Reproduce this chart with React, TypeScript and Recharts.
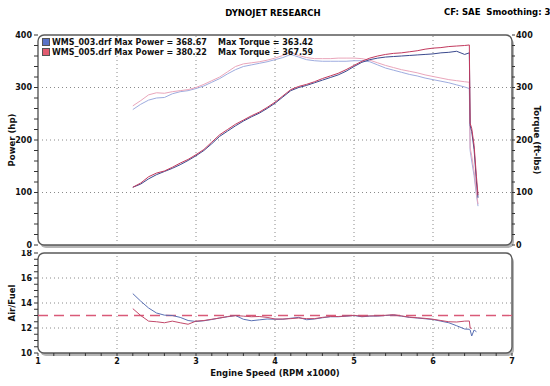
import React from "react";
import {
  LineChart,
  Line,
  XAxis,
  YAxis,
  ReferenceLine,
  ReferenceArea,
  Legend,
} from "recharts";

// engine speed, RPM x1000
const rpm = [
  2.2, 2.3, 2.4, 2.5, 2.6, 2.7, 2.8, 2.9,
  3.0, 3.1, 3.2, 3.3, 3.4, 3.5, 3.6, 3.7, 3.8, 3.9,
  4.0, 4.1, 4.2, 4.3, 4.4, 4.5, 4.6, 4.7, 4.8, 4.9,
  5.0, 5.1, 5.2, 5.3, 5.4, 5.5, 5.6, 5.7, 5.8, 5.9,
  6.0, 6.1, 6.2, 6.3, 6.4,
  6.46, 6.47, 6.49, 6.52, 6.55, 6.57,
];

// WMS_003 (blue)
const power003 = [
  110, 116, 126, 134, 140, 146, 153, 161,
  170, 180, 193, 207, 217, 227, 236, 244, 251, 260,
  270, 282, 294, 300, 304, 309, 314, 319, 324, 331,
  340, 348, 353, 356, 358, 359, 360, 361, 362, 363,
  364, 366, 367, 369, 363,
  366, 228, 216, 182, 120, 90,
];
const torque003 = [
  258, 268, 276, 280, 281, 288, 292, 294,
  298, 303, 310, 317, 326, 334, 340, 343, 346, 349,
  353, 357, 363, 358, 353, 351, 350, 350, 350, 350,
  351, 351, 349, 343, 337, 333, 329, 325, 322, 318,
  315, 312, 309, 305, 301,
  298, 180, 160, 132, 95, 74,
];
const afr003 = [
  14.75, 14.15, 13.6, 13.2, 13.03, 13.0, 12.85, 12.6,
  12.52, 12.58, 12.68, 12.8, 12.9, 13.0, 12.7, 12.58, 12.65, 12.72,
  12.7, 12.7, 12.78, 12.85, 12.66, 12.72, 12.82, 12.9, 12.9, 12.95,
  13.0, 12.9, 12.95, 12.96, 13.0, 13.04, 12.95, 12.85, 12.8, 12.74,
  12.68, 12.55, 12.42, 12.18, 11.92,
  11.9, 11.85, 11.36, 11.84, 11.7, null,
];

// WMS_005 (red)
const power005 = [
  110, 118, 130, 137, 141, 148, 156, 163,
  172, 182, 196, 210, 220, 230, 238, 246, 253, 262,
  272, 284, 296, 302, 306, 311, 317, 322, 327, 334,
  342, 350, 356, 360, 363, 365, 366, 368, 370, 373,
  375, 376, 378, 379, 380,
  381, 232, 222, 190, 130, 95,
];
const torque005 = [
  265, 275, 286, 290, 289, 292, 294, 296,
  300, 306, 313, 320, 330, 340, 345, 347, 349, 352,
  356, 361, 367, 361, 357, 355, 355, 355, 356, 356,
  356, 355, 352, 347, 342, 338, 334, 331, 328, 324,
  321, 318, 315, 313, 311,
  310, 185, 170, 140, 100, 78,
];
const afr005 = [
  13.55, 13.0, 12.55, 12.5, 12.42, 12.55, 12.42, 12.3,
  12.55, 12.6, 12.7, 12.8, 12.92, 13.0, 12.95, 12.9, 12.92, 12.85,
  12.72, 12.72, 12.75, 12.8, 12.75, 12.75, 12.85, 12.92, 12.92, 12.96,
  13.02, 12.93, 12.97, 12.98, 13.02, 13.06, 12.97, 12.87, 12.82, 12.77,
  12.7, 12.6, 12.5, 12.48, 12.55,
  12.56, 12.0, 11.97, null, null, null,
];

const runFiles = ["WMS_003.drf", "WMS_005.drf"];
const maxPower = ["368.67", "380.22"];
const maxTorque = ["363.42", "367.59"];
const runColors = ["#5a72c6", "#e25c70"];

const targetAfr = 13.0;
const rpmGrid = [2, 3, 4, 5, 6];
const powerGrid = [100, 200, 300];
const afrGrid = [12, 14, 16];

const powerTicks = Array.from({ length: 21 }, (_, i) => i * 20);
const afrTicks = Array.from({ length: 17 }, (_, i) => 10 + i * 0.5);
const rpmTicks = Array.from({ length: 31 }, (_, i) => Math.round((1 + i * 0.2) * 10) / 10);

const data = rpm.map((r, i) => ({
  rpm: r,
  p003: power003[i],
  t003: torque003[i],
  a003: afr003[i],
  p005: power005[i],
  t005: torque005[i],
  a005: afr005[i],
}));

const FONT = '"DejaVu Sans", Verdana, sans-serif';
const tickStyle = { fontSize: 8, fontWeight: "bold", fill: "#111", fontFamily: FONT };
const titleStyle = { fontSize: 8.5, fontWeight: "bold", fill: "#111", fontFamily: FONT };
const gridStroke = "#8a8a8a";

const only = (step: number) => (v: number) =>
  Math.abs(v / step - Math.round(v / step)) < 1e-6 ? String(Math.round(v)) : "";

const Frame = (props: any) => {
  const { x, y, width, height } = props;
  return (
    <g>
      <rect x={x + 2} y={y + 3} width={width} height={height} rx={6} fill="#b5b5b5" />
      <rect x={x} y={y} width={width} height={height} rx={6} fill="#fff" stroke="#5a5a5a" strokeWidth={1.4} />
    </g>
  );
};

const RunLegend = () => (
  <div style={{ fontFamily: FONT, fontSize: 8, fontWeight: "bold", color: "#111", position: "relative", width: 320 }}>
    {runFiles.map((f, i) => (
      <div key={f} style={{ height: 10, lineHeight: "10px", position: "relative", whiteSpace: "nowrap" }}>
        <span
          style={{
            display: "inline-block",
            width: 6,
            height: 6,
            background: runColors[i],
            border: "1px solid #555",
            marginRight: 2,
            verticalAlign: "-1px",
          }}
        />
        {f} Max Power = {maxPower[i]}
        <span style={{ position: "absolute", left: 176 }}>Max Torque = {maxTorque[i]}</span>
      </div>
    ))}
  </div>
);

export default function App() {
  return (
    <div
      style={{
        position: "absolute",
        left: 0,
        top: 0,
        width: 550,
        height: 386,
        background: "#fff",
        fontFamily: FONT,
        overflow: "hidden",
      }}
    >
      <div style={{ position: "absolute", left: 0, width: 546, top: 8, textAlign: "center", fontSize: 8.5, fontWeight: "bold" }}>
        DYNOJET RESEARCH
      </div>
      <div style={{ position: "absolute", left: 444, top: 7, fontSize: 8.5, fontWeight: "bold", whiteSpace: "pre" }}>
        CF: SAE  Smoothing: 3
      </div>

      <div style={{ position: "absolute", left: 0, top: 0 }}>
        <LineChart width={550} height={250} data={data} margin={{ top: 35, right: 0, bottom: 5, left: 0 }}>
          <XAxis dataKey="rpm" type="number" domain={[1, 7]} hide />
          <YAxis
            yAxisId="hp"
            domain={[0, 400]}
            ticks={powerTicks}
            interval={0}
            tickFormatter={only(100)}
            width={38}
            axisLine={false}
            tickLine={{ stroke: "#333" }}
            tickSize={4}
            tick={tickStyle}
            label={{ value: "Power (hp)", angle: -90, position: "center", dx: -7, style: titleStyle }}
          />
          <YAxis
            yAxisId="tq"
            orientation="right"
            domain={[0, 400]}
            ticks={powerTicks}
            interval={0}
            tickFormatter={only(100)}
            width={38}
            axisLine={false}
            tickLine={{ stroke: "#333" }}
            tickSize={3}
            tickMargin={1}
            tick={tickStyle}
            label={{ value: "Torque (ft-lbs)", angle: 90, position: "center", dx: 6, style: titleStyle }}
          />
          <ReferenceArea yAxisId="hp" x1={1} x2={7} y1={0} y2={400} shape={<Frame />} />
          {powerGrid.map((v) => (
            <ReferenceLine key={"h" + v} yAxisId="hp" y={v} stroke={gridStroke} strokeDasharray="1 3" />
          ))}
          {rpmGrid.map((v) => (
            <ReferenceLine key={"v" + v} yAxisId="hp" x={v} stroke={gridStroke} strokeDasharray="1 3" />
          ))}
          <Line yAxisId="tq" dataKey="t003" stroke="#9eacdf" strokeWidth={1} dot={false} isAnimationActive={false} />
          <Line yAxisId="tq" dataKey="t005" stroke="#eaa6bb" strokeWidth={1} dot={false} isAnimationActive={false} />
          <Line yAxisId="hp" dataKey="p003" stroke="#3b4a8e" strokeWidth={1} dot={false} isAnimationActive={false} />
          <Line yAxisId="hp" dataKey="p005" stroke="#c23a5e" strokeWidth={1} dot={false} isAnimationActive={false} />
          <Legend
            layout="horizontal"
            verticalAlign="middle"
            align="center"
            content={<RunLegend />}
            wrapperStyle={{ top: 38, left: 42, width: 320, height: 20 }}
          />
        </LineChart>
      </div>

      <div style={{ position: "absolute", left: 0, top: 250 }}>
        <LineChart width={550} height={136} data={data} margin={{ top: 3, right: 0, bottom: 0, left: 0 }}>
          <XAxis
            dataKey="rpm"
            type="number"
            domain={[1, 7]}
            ticks={rpmTicks}
            interval={0}
            tickFormatter={only(1)}
            height={33}
            axisLine={false}
            tickLine={{ stroke: "#333" }}
            tickSize={3}
            tickMargin={2}
            tick={tickStyle}
            label={{ value: "Engine Speed (RPM x1000)", position: "center", dy: 3, style: titleStyle }}
          />
          <YAxis
            yAxisId="afr"
            domain={[10, 18]}
            ticks={afrTicks}
            interval={0}
            tickFormatter={only(2)}
            width={38}
            axisLine={false}
            tickLine={{ stroke: "#333" }}
            tickSize={4}
            tick={tickStyle}
            label={{ value: "Air/Fuel", angle: -90, position: "center", dx: -7, style: titleStyle }}
          />
          <YAxis yAxisId="blank" orientation="right" width={38} axisLine={false} tickLine={false} tick={false} />
          <ReferenceArea yAxisId="afr" x1={1} x2={7} y1={10} y2={18} shape={<Frame />} />
          {afrGrid.map((v) => (
            <ReferenceLine key={"h" + v} yAxisId="afr" y={v} stroke={gridStroke} strokeDasharray="1 3" />
          ))}
          {rpmGrid.map((v) => (
            <ReferenceLine key={"v" + v} yAxisId="afr" x={v} stroke={gridStroke} strokeDasharray="1 3" />
          ))}
          <ReferenceLine yAxisId="afr" y={targetAfr} stroke="#d95a78" strokeWidth={1.3} strokeDasharray="10 6" />
          <Line yAxisId="afr" dataKey="a003" stroke="#5a70b4" strokeWidth={1} dot={false} isAnimationActive={false} />
          <Line yAxisId="afr" dataKey="a005" stroke="#c2496a" strokeWidth={1} dot={false} isAnimationActive={false} />
        </LineChart>
      </div>
    </div>
  );
}
